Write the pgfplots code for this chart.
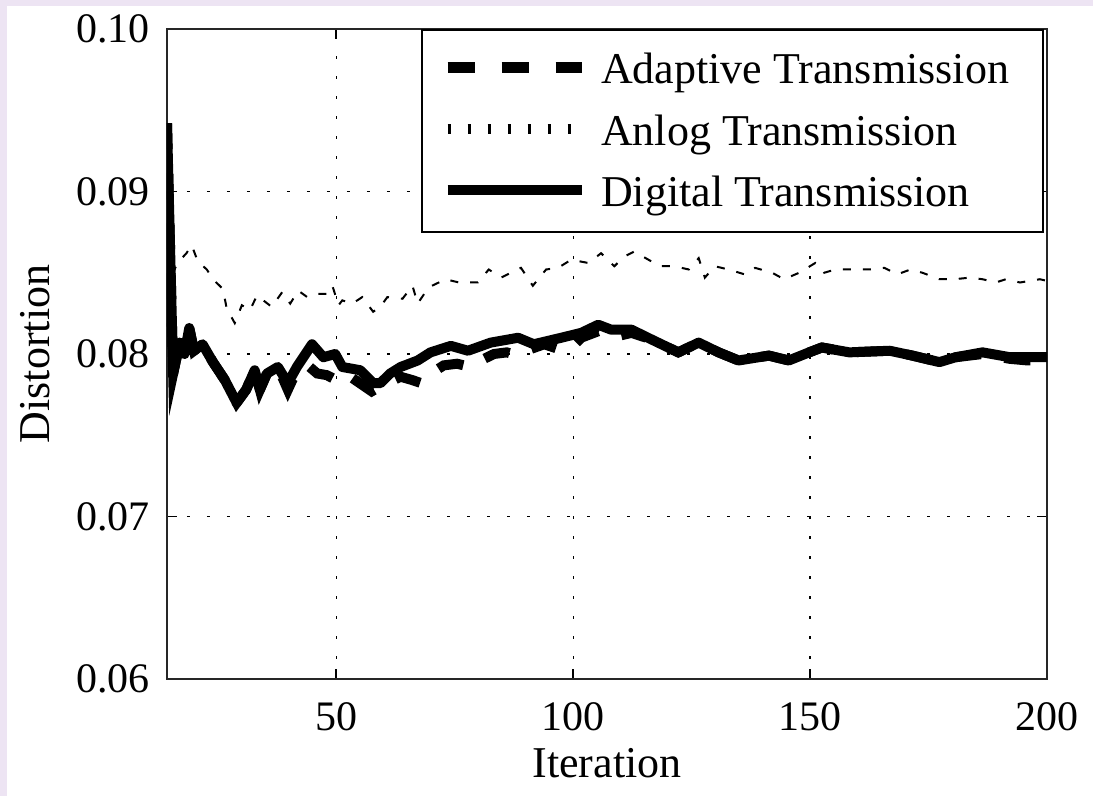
\documentclass[border=0pt]{standalone}
\usepackage{pgfplots}
\pgfplotsset{compat=1.18}
\usepackage{fontspec}
\setmainfont{Liberation Serif}
\definecolor{lav}{HTML}{EDE4F3}

\pgfplotstableread{
x y
14.3 0.0942
15.6 0.0788
17 0.0807
18 0.0800
19 0.0816
20 0.0802
21.8 0.0806
24 0.0795
26.5 0.0784
29 0.0770
31 0.0778
32.8 0.0790
33.9 0.0778
35.4 0.0788
37.7 0.0792
39.8 0.0782
41.7 0.0792
44.9 0.0806
47.3 0.0798
49.8 0.0800
51.3 0.0792
55.1 0.0790
57.8 0.0782
59.3 0.0782
61.4 0.0788
63.6 0.0792
67.2 0.0796
69.9 0.0801
74.2 0.0805
77.8 0.0802
82.6 0.0807
88.4 0.0810
91.7 0.0806
97.5 0.0810
101.7 0.0813
105.3 0.0818
108 0.0815
112.3 0.0815
116.5 0.0809
122.2 0.0801
126.5 0.0807
130.7 0.0801
134.9 0.0796
141.3 0.0799
145.5 0.0796
149.8 0.0801
152.5 0.0804
158.3 0.0801
166.8 0.0802
171.6 0.0799
177.3 0.0795
180.7 0.0798
186.4 0.0801
192.2 0.0798
200 0.0798
}\digital

\pgfplotstableread{
x y
14.3 0.0942
15.6 0.0788
17 0.0807
19 0.0816
20 0.0802
21.8 0.0806
24 0.0795
26.5 0.0784
29 0.0770
31 0.0778
32.8 0.0790
33.9 0.0778
35.4 0.0788
37.7 0.0792
39.8 0.0778
41.7 0.0790
44 0.0793
46 0.0788
48 0.0787
50 0.0784
52 0.0788
55 0.0782
57.5 0.0777
59.3 0.0780
61.4 0.0783
63.6 0.0786
66 0.0784
68 0.0782
70 0.0788
72.7 0.0793
75.5 0.0794
78.4 0.0792
80.5 0.0796
83.3 0.0800
86 0.0801
88.4 0.0799
91 0.0803
93.9 0.0806
97 0.0803
99 0.0802
101.7 0.0810
105.3 0.0814
108 0.0810
112.3 0.0813
116.5 0.0809
122.2 0.0801
126.5 0.0807
130.7 0.0801
134.9 0.0796
141.3 0.0799
145.5 0.0796
149.8 0.0801
152.5 0.0804
158.3 0.0801
166.8 0.0802
171.6 0.0799
177.3 0.0795
180.7 0.0798
186.4 0.0800
192.2 0.0797
196 0.0796
200 0.0796
}\adaptive

\pgfplotstableread{
x y
14.3 0.0900
15.6 0.0850
16.5 0.0856
18.4 0.0862
19.5 0.0867
20.8 0.0857
22.7 0.0852
24 0.0846
26.1 0.0840
26.9 0.0828
28.6 0.0819
30.1 0.0830
31.8 0.0827
33.3 0.0836
36.4 0.0829
38.6 0.0838
40.3 0.0831
42 0.0839
43.9 0.0835
46 0.0837
48.1 0.0837
49.2 0.0842
50.5 0.0830
51.3 0.0833
53.4 0.0831
55.5 0.0835
57.8 0.0826
59.3 0.0829
60.8 0.0835
64 0.0834
66.1 0.0842
67.2 0.0831
69.5 0.0841
73.1 0.0846
75.9 0.0844
79.9 0.0844
82.2 0.0852
84.8 0.0847
89 0.0853
91.5 0.0842
94.3 0.0852
96.8 0.0853
99.6 0.0858
103.2 0.0856
105.9 0.0862
108.7 0.0854
110.8 0.0860
112.9 0.0863
116.5 0.0857
118.6 0.0854
121.4 0.0854
124.4 0.0852
126.5 0.0859
127.8 0.0847
129.9 0.0854
132.8 0.0852
136.2 0.0849
138.4 0.0853
142 0.0850
144.5 0.0846
147.7 0.0850
151.1 0.0856
153 0.0850
155.3 0.0852
158.5 0.0852
162.7 0.0852
165.7 0.0853
168.4 0.0849
171.2 0.0852
173.7 0.0850
177.3 0.0846
180.5 0.0846
183.7 0.0847
186.4 0.0846
189.2 0.0844
191.3 0.0846
194.3 0.0844
198.5 0.0846
200 0.0845
}\analog

\begin{document}
\begin{tikzpicture}
\useasboundingbox (-83.5pt,-58.5pt) rectangle (463pt,339.5pt);
\fill[lav] (-83.5pt,-58.5pt) rectangle (463pt,339.5pt);
\fill[white] (-80pt,-58.5pt) rectangle (463pt,336.5pt);
\begin{axis}[
  scale only axis,
  width=440pt, height=325pt,
  xmin=14.3, xmax=200,
  ymin=0.06, ymax=0.10,
  xtick={50,100,150,200},
  ytick={0.06,0.07,0.08,0.09,0.10},
  yticklabels={0.06,0.07,0.08,0.09,0.10},
  scaled y ticks=false,
  tick align=inside,
  major tick length=5pt,
  tick style={line width=0.8pt, black},
  axis line style={line width=1pt, black!85},
  grid=major,
  major grid style={line width=0.6pt, black, dash pattern=on 1.5pt off 8.5pt},
  /pgf/number format/assume math mode=true,
  ticklabel style={font=\fontsize{21}{24}\selectfont},
  xticklabel style={anchor=base, yshift=-26pt},
  yticklabel style={anchor=east, inner sep=0pt, xshift=-8.5pt},
  xlabel={Iteration},
  ylabel={Distortion},
  label style={font=\fontsize{22}{25}\selectfont},
  xlabel style={at={(axis description cs:0.5,-0.1523)}, anchor=base},
  ylabel style={at={(axis description cs:-0.15,0.5)}, anchor=center, rotate=0},
  legend cell align=left,
  legend image code/.code={\draw[#1] (0pt,1pt) -- (67pt,1pt);},
  legend style={at={(rel axis cs:1,1)}, anchor=north east, xshift=-1.5pt,
    draw=black, line width=1pt, fill=white,
    font=\fontsize{22}{25}\selectfont,
    inner xsep=10pt, inner ysep=10.5pt, row sep=12.25pt,
    nodes={inner ysep=0pt, inner xsep=7pt, text height=16.5pt, text depth=2pt}},
]
\addlegendimage{black, line width=5.5pt, dash pattern=on 13.5pt off 13.5pt}
\addlegendentry{Adaptive Transmission}
\addlegendimage{black, line width=5pt, dash pattern=on 1.5pt off 8.5pt}
\addlegendentry{Anlog Transmission}
\addlegendimage{black, line width=5pt}
\addlegendentry{Digital Transmission}

\addplot[forget plot, black, line width=1pt, dash pattern=on 4pt off 6pt] table[x=x,y=y] {\analog};
\addplot[forget plot, black, line width=5pt, dash pattern=on 13pt off 12pt] table[x=x,y=y] {\adaptive};
\addplot[forget plot, black, line width=5pt, line join=round] table[x=x,y=y] {\digital};
\end{axis}
\end{tikzpicture}
\end{document}
